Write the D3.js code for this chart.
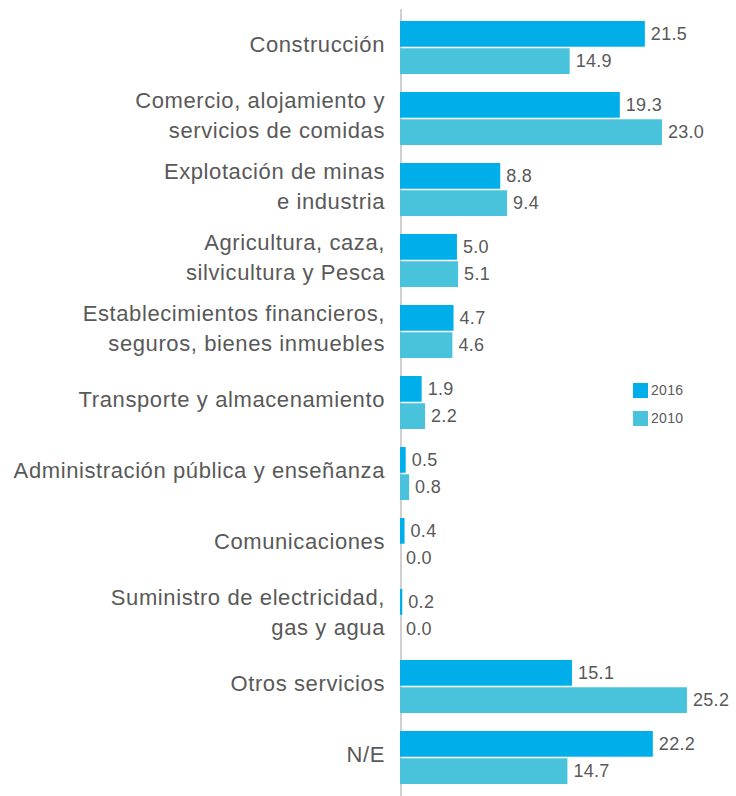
<!DOCTYPE html>
<html><head><meta charset="utf-8">
<script src="https://cdn.jsdelivr.net/npm/d3@7"></script>
<style>body{margin:0;background:#fff}svg{display:block}</style>
</head><body>
<script>
const categories = [
  ["Construcción"],
  ["Comercio, alojamiento y","servicios de comidas"],
  ["Explotación de minas","e industria"],
  ["Agricultura, caza,","silvicultura y Pesca"],
  ["Establecimientos financieros,","seguros, bienes inmuebles"],
  ["Transporte y almacenamiento"],
  ["Administración pública y enseñanza"],
  ["Comunicaciones"],
  ["Suministro de electricidad,","gas y agua"],
  ["Otros servicios"],
  ["N/E"]
];
const seriesNames = ["2016","2010"];
const values2016 = [21.5,19.3,8.8,5.0,4.7,1.9,0.5,0.4,0.2,15.1,22.2];
const values2010 = [14.9,23.0,9.4,5.1,4.6,2.2,0.8,0.0,0.0,25.2,14.7];
const colors = ["#00AFEA","#48C3DB"];

const W=736,H=796;
const svg=d3.select("body").append("svg").attr("width",W).attr("height",H);
const font="'Liberation Sans', Arial, Helvetica, sans-serif";
const txt="#595959";

svg.append("line").attr("x1",401).attr("x2",401).attr("y1",9).attr("y2",H).attr("stroke","#d0d0d0").attr("stroke-width",2);

const y0=d3.scaleBand().domain(d3.range(categories.length)).range([21,784]).paddingInner(18/71).paddingOuter(0);
const y1=d3.scaleBand().domain(seriesNames).range([0,y0.bandwidth()]).paddingInner(3/53);
const x=d3.scaleLinear().domain([0,25.2]).range([400,687]);

const series=[values2016,values2010];
const g=svg.append("g");
categories.forEach((c,i)=>{
  seriesNames.forEach((s,k)=>{
    const v=series[k][i];
    const yy=y0(i)+y1(s);
    g.append("rect").attr("x",x(0)).attr("y",yy).attr("width",x(v)-x(0)).attr("height",y1.bandwidth()).attr("fill",colors[k]);
    g.append("text").attr("x",x(v)+6).attr("y",yy+y1.bandwidth()/2).attr("dy","0.35em")
      .attr("font-family",font).attr("font-size",18).attr("letter-spacing",0.3).attr("fill",txt).text(v.toFixed(1));
  });
  const cy=y0(i)+y0.bandwidth()/2-3;
  const lh=29.5;
  const t=svg.append("text").attr("text-anchor","end").attr("font-family",font).attr("font-size",22).attr("letter-spacing",0.6).attr("fill",txt);
  c.forEach((line,j)=>{
    t.append("tspan").attr("x",385).attr("y",cy+(j-(c.length-1)/2)*lh).attr("dy","0.35em").text(line);
  });
});

const leg=svg.append("g").attr("transform","translate(633,383)");
seriesNames.forEach((s,k)=>{
  leg.append("rect").attr("x",0).attr("y",k*28).attr("width",15).attr("height",15).attr("fill",colors[k]);
  leg.append("text").attr("x",18).attr("y",k*28+7.5).attr("dy","0.35em").attr("font-family",font).attr("font-size",14).attr("letter-spacing",0.3).attr("fill",txt).text(s);
});
</script>
</body></html>
